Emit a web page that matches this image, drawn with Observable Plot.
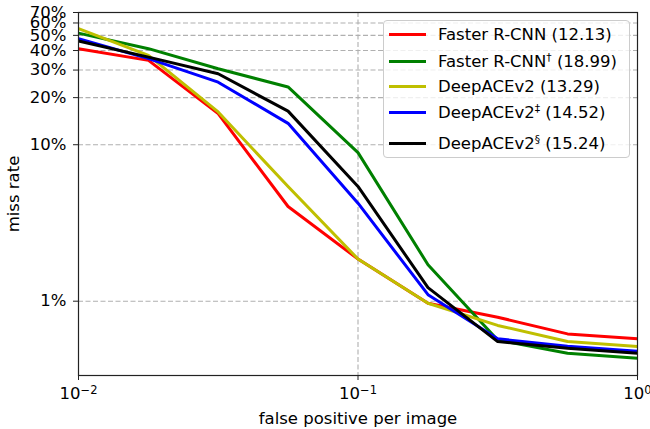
<!DOCTYPE html>
<html><head><meta charset="utf-8">
<script src="https://cdn.jsdelivr.net/npm/d3@7"></script>
<script src="https://cdn.jsdelivr.net/npm/@observablehq/plot@0.6"></script>
<style>
body{margin:0;background:#fff;font-family:"DejaVu Sans",sans-serif;}
#wrap{position:relative;width:650px;height:429px;}
#legend{position:absolute;left:383px;top:20px;width:247px;height:138px;box-sizing:border-box;border:1px solid #cccccc;border-radius:4px;background:rgba(255,255,255,0.8);}
.row{position:absolute;left:0;height:26px;display:flex;align-items:center;font-size:16.5px;color:#000;white-space:nowrap;transform:translateY(-50%);}
.swatch{width:37px;height:3px;margin-left:5px;margin-right:12px;}
sup{font-size:65%;line-height:0;vertical-align:0.55em}
</style></head><body><div id="wrap"><div id="legend"></div></div>
<script>
// x values: false positives per image
const fppi = [0.01, 0.0178, 0.0316, 0.0562, 0.1, 0.178, 0.316, 0.562, 1.0];
// series names and legend labels
const seriesNames = ["Faster R-CNN", "Faster R-CNN†", "DeepACEv2", "DeepACEv2‡", "DeepACEv2§"];
const seriesBase = ["Faster R-CNN", "Faster R-CNN", "DeepACEv2", "DeepACEv2", "DeepACEv2"];
const seriesMark = ["", "†", "", "‡", "§"];
const seriesScore = ["12.13", "18.99", "13.29", "14.52", "15.24"];
const seriesColors = ["#ff0000", "#008000", "#bfbf00", "#0000ff", "#000000"];
// miss rate values (%)
const fasterRcnn  = [41.1, 34.6, 15.8, 4.03, 1.86, 0.97, 0.79, 0.618, 0.575];
const fasterRcnnD = [51.7, 41.1, 30.6, 23.4, 8.9, 1.71, 0.565, 0.465, 0.432];
const deepAce     = [55.2, 37.2, 16.2, 5.4, 1.86, 0.97, 0.70, 0.552, 0.513];
const deepAceDD   = [47.6, 35.5, 25.1, 13.7, 4.23, 1.10, 0.575, 0.515, 0.479];
const deepAceS    = [46.0, 36.3, 28.4, 16.4, 5.41, 1.22, 0.552, 0.50, 0.465];
const allSeries = [fasterRcnn, fasterRcnnD, deepAce, deepAceDD, deepAceS];
// tick values
const yTicks = [0.01, 0.1, 0.2, 0.3, 0.4, 0.5, 0.6, 0.7];
const yTickLabels = ["1%", "10%", "20%", "30%", "40%", "50%", "60%", "70%"];
const yGrid = [0.01, 0.1, 0.2, 0.3, 0.4, 0.5, 0.6];
const xTicks = [0.01, 0.1, 1];
const xTickExp = ["−2", "−1", "0"];
const xGrid = [0.1];

const lineMarks = allSeries.map((vals, i) =>
  Plot.line(vals.map((v, j) => ({x: fppi[j], y: v / 100})), {
    x: "x", y: "y", stroke: seriesColors[i], strokeWidth: 3,
    strokeLinejoin: "round", strokeLinecap: "butt"
  })
);

const chart = Plot.plot({
  width: 650, height: 429,
  marginLeft: 78, marginRight: 13, marginTop: 12, marginBottom: 54,
  style: {fontFamily: "DejaVu Sans", fontSize: "16.5px", color: "#000", background: "#fff"},
  x: {type: "log", domain: [0.01, 1]},
  y: {type: "log", domain: [0.00335, 0.7]},
  marks: [
    Plot.gridY(yGrid, {stroke: "#b0b0b0", strokeOpacity: 1, strokeWidth: 1.1, strokeDasharray: "5,2.5"}),
    Plot.gridX(xGrid, {stroke: "#b0b0b0", strokeOpacity: 1, strokeWidth: 1.1, strokeDasharray: "5,2.5"}),
    ...lineMarks,
    Plot.frame({stroke: "#222", strokeWidth: 1.2}),
    Plot.axisY(yTicks, {
      tickSize: 5, tickPadding: 7, stroke: "#222",
      tickFormat: () => "",
      label: "miss rate", labelAnchor: "center", labelArrow: "none", labelOffset: 71
    }),
    Plot.text(yTicks, {
      y: d => d, text: (d, i) => yTickLabels[i], frameAnchor: "left",
      textAnchor: "end", dx: -12, fill: "#000", fontSize: 16.5
    }),
    Plot.axisX(xTicks, {
      tickSize: 5, tickPadding: 7, stroke: "#222",
      tickFormat: d => "10^" + xTickExp[xTicks.indexOf(d)],
      label: "false positive per image", labelAnchor: "center", labelArrow: "none", labelOffset: 48
    })
  ]
});

// superscript exponents on x tick labels
d3.select(chart).selectAll('g[aria-label="x-axis tick label"] text').each(function() {
  const t = d3.select(this);
  const s = t.text();
  if (s.indexOf("^") < 0) return;
  const [base, exp] = s.split("^");
  t.text(null);
  t.append("tspan").text(base);
  t.append("tspan").attr("dy", "-0.45em").attr("font-size", "11.5px").text(exp);
});

document.getElementById("wrap").prepend(chart);
chart.style.position = "absolute";
chart.style.left = "0";
chart.style.top = "0";

// legend
const rowCenters = [13.5, 40.4, 65.6, 91.5, 122];
const legend = document.getElementById("legend");
seriesNames.forEach((name, i) => {
  const row = document.createElement("div");
  row.className = "row";
  row.style.top = rowCenters[i] + "px";
  const sw = document.createElement("span");
  sw.className = "swatch";
  sw.style.background = seriesColors[i];
  const label = document.createElement("span");
  label.innerHTML = seriesBase[i] + (seriesMark[i] ? "<sup>" + seriesMark[i] + "</sup>" : "") + " (" + seriesScore[i] + ")";
  row.append(sw, label);
  legend.append(row);
});
</script>
</body></html>
